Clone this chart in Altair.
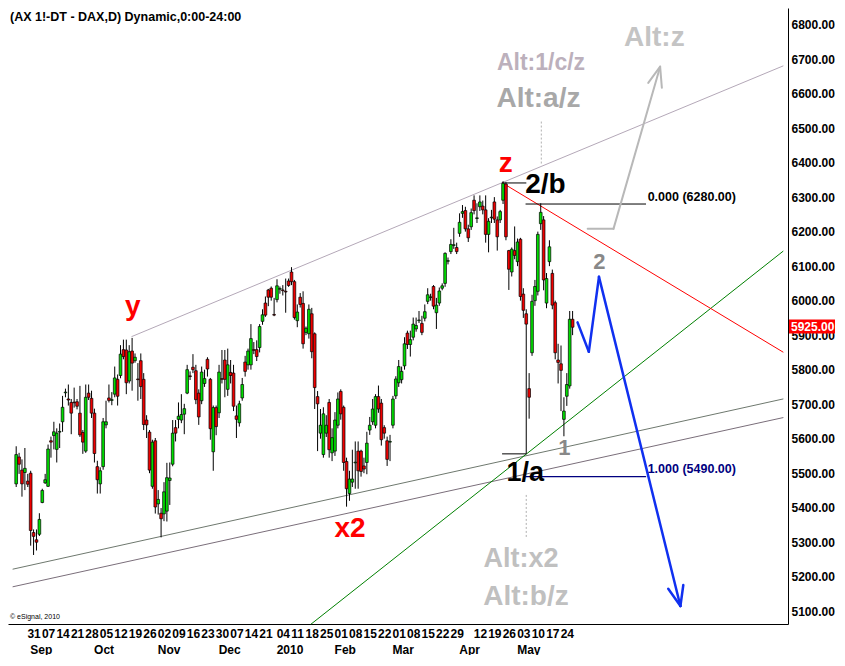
import altair as alt
import pandas as pd

# ---------------- candle data (trading-day index, OHLC) ----------------
open_ = [5469,5547,5509,5502,5477,5500,5328,5307,5323,5415,5472,5462,5594,5609,5569,5619,5649,5733,5715,5705,
         5706,5707,5674,5618,5564,5732,5717,5674,5519,5469,5519,5640,5718,5711,5729,5772,5783,5858,5857,5767,
         5854,5826,5773,5826,5772,5654,5619,5462,5594,5411,5384,5382,5390,
         5479,5526,5632,5656,5654,5671,5732,5782,5807,5797,5732,5710,5760,5830,5772,5562,5690,5675,5774,5828,
         5743,5792,5790,5666,5646,5718,5822,5814,5814,5858,5858,5864,5940,5993,6031,6036,5960,6003,6033,6031,
         6027,6057,6083,6055,5942,6010,5992,5908,5904,5962,
         5904,5722,5616,5554,5616,5705,5559,5564,5639,5737,5691,5534,5441,5474,5530,5564,5564,5521,5531,5625,
         5649,5639,5722,5703,5632,5594,5590,5639,5724,5762,5771,5811,5906,5873,5894,5918,5942,5934,5949,5998,
         6009,6041,5965,5993,6036,6050,6114,6142,6160,6154,
         6195,6253,6261,6208,6214,6291,6238,6272,6274,6263,6192,6240,6286,6234,6234,6291,6338,6145,6083,6145,
         6113,6178,6019,5962,5745,5849,6000,6027,6223,6234,5993,6113,6079,5994,5828,5817,5656,5723,5753,5946]
high_ = [5578,5559,5540,5573,5498,5507,5337,5337,5384,5455,5498,5583,5606,5649,5630,5644,5724,5745,5757,5715,
         5748,5715,5753,5625,5757,5757,5739,5687,5536,5517,5660,5710,5757,5735,5809,5786,5871,5887,5887,5871,
         5892,5847,5819,5847,5790,5668,5625,5597,5602,5451,5399,5474,5530,
         5531,5654,5654,5705,5729,5701,5814,5795,5845,5814,5743,5809,5800,5836,5776,5696,5696,5814,5857,5857,
         5861,5828,5814,5696,5710,5776,5840,5861,5932,5880,5885,5932,5975,6012,6034,6041,6008,6062,6041,6045,
         6064,6064,6097,6060,5989,6022,6027,5925,5989,5979,
         5908,5738,5686,5691,5668,5715,5630,5677,5734,5743,5696,5545,5507,5568,5592,5592,5568,5545,5620,5663,
         5715,5729,5754,5715,5639,5606,5611,5724,5781,5828,5809,5894,5913,5913,5951,5951,5970,5956,5989,6036,
         6020,6045,6008,6038,6050,6140,6125,6178,6211,6168,
         6253,6277,6272,6220,6267,6305,6282,6305,6290,6305,6239,6263,6300,6244,6263,6346,6343,6147,6154,6215,
         6180,6182,6036,5975,5790,6017,6060,6200,6282,6245,6080,6175,6090,6000,5875,5870,5720,5790,5970,5970]
low_ = [5460,5498,5432,5451,5460,5290,5263,5276,5318,5413,5469,5460,5545,5569,5531,5573,5620,5720,5696,5613,
        5690,5685,5605,5556,5559,5712,5660,5531,5441,5441,5510,5630,5705,5697,5720,5696,5775,5830,5729,5760,
        5739,5820,5710,5715,5625,5602,5500,5455,5383,5380,5314,5361,5360,
        5408,5520,5592,5630,5645,5613,5729,5770,5790,5700,5640,5700,5750,5780,5597,5507,5610,5660,5760,5720,
        5724,5760,5680,5602,5635,5710,5780,5800,5800,5845,5825,5850,5930,5953,5984,6000,5955,5995,6020,6015,
        5965,6040,6045,5945,5923,5980,5861,5900,5890,5833,
        5686,5564,5600,5545,5605,5545,5535,5550,5630,5655,5507,5403,5420,5460,5455,5455,5490,5500,5497,5611,
        5640,5630,5675,5580,5600,5521,5535,5630,5715,5750,5760,5800,5860,5838,5885,5910,5935,5900,5940,5990,
        6000,5975,5918,5985,6030,6040,6105,6135,6150,6135,
        6185,6240,6200,6170,6205,6250,6225,6260,6250,6168,6140,6225,6225,6145,6225,6280,6175,6031,6070,6120,
        6100,6000,5950,5556,5658,5840,5985,6015,6205,6030,5978,6100,5975,5830,5760,5680,5607,5695,5745,5900]
close_ = [5554,5526,5469,5514,5468,5334,5317,5300,5366,5450,5481,5570,5590,5620,5616,5621,5691,5735,5712,5674,
          5704,5694,5611,5590,5720,5720,5674,5557,5481,5507,5649,5649,5711,5713,5776,5723,5845,5838,5762,5852,
          5819,5836,5771,5751,5641,5640,5509,5590,5402,5424,5368,5446,5487,
          5486,5616,5616,5665,5670,5687,5800,5780,5800,5713,5663,5793,5774,5802,5629,5690,5635,5793,5772,5772,
          5814,5783,5694,5656,5701,5757,5795,5854,5890,5856,5838,5925,5959,5958,6010,6010,5958,6043,6035,6029,
          6025,6044,6055,5951,5967,5989,5875,5920,5975,5852,
          5748,5701,5639,5672,5639,5568,5603,5654,5715,5672,5531,5455,5483,5483,5532,5507,5505,5512,5587,5639,
          5686,5722,5686,5597,5616,5540,5592,5715,5773,5809,5795,5875,5873,5887,5932,5928,5944,5908,5968,6017,
          6011,5984,5987,6028,6043,6137,6116,6163,6162,6142,
          6227,6258,6208,6182,6255,6261,6240,6286,6263,6192,6230,6242,6236,6185,6258,6340,6185,6091,6149,6131,
          6170,6012,5972,5932,5720,5998,6041,6192,6256,6060,6064,6156,5987,5849,5821,5798,5680,5757,5946,5923]

# ---------------- axis labels ----------------
day_tick_idx = [3, 8, 13, 18, 23, 28, 33, 38, 43, 48, 53, 58, 63, 68, 73, 78, 83, 89, 94, 99, 104, 109,
                114, 119, 124, 129, 134, 139, 144, 149, 157, 162, 167, 172, 177, 182, 187]
day_tick_lbl = ['31', '07', '14', '21', '28', '05', '12', '19', '26', '02', '09', '16', '23', '30', '07',
                '14', '21', '04', '11', '18', '25', '01', '08', '15', '22', '01', '08', '15', '22', '29',
                '12', '19', '26', '03', '10', '17', '24']
month_idx = [4, 26, 48, 69, 89, 109, 129, 152, 172]
month_lbl = ['Sep', 'Oct', 'Nov', 'Dec', '2010', 'Feb', 'Mar', 'Apr', 'May']
price_ticks = list(range(5100, 6900, 100))
last_price = 5925

# ---------------- drawn lines (index, price) ----------------
seg_x1 = [39.9, -1.1, -1.1, 101.8, 167.8, 167.8, 175.9, 167.8, 175.9,
          197.2, 206.1, 222.2, 222.2,
          193.7, 197.6, 201.1, 229.2, 229.2]
seg_y1 = [5896, 5222, 5171, 5063, 6341, 6341, 6280, 5556, 5490,
          6208, 6208, 6678, 6678,
          5937, 5852, 6069, 5115, 5115]
seg_x2 = [264.6, 264.6, 264.6, 264.6, 264.6, 175.9, 217.2, 175.9, 217.2,
          206.1, 222.2, 218.1, 222.8,
          197.6, 201.1, 229.2, 225.0, 230.2]
seg_y2 = [6680, 5715, 5661, 6143, 5851, 6341, 6280, 5556, 5490,
          6208, 6678, 6631, 6617,
          5852, 6069, 5115, 5165, 5176]
seg_color = ['#b4a8b8', '#6e786e', '#7a6e7a', '#008000', '#ff0000', '#000000', '#000000', '#000000', '#000080',
             '#b8b8b8', '#b8b8b8', '#b8b8b8', '#b8b8b8',
             '#1030f0', '#1030f0', '#1030f0', '#1030f0', '#1030f0']
seg_width = [1, 1, 1, 1, 1, 1, 1, 1, 1.2,
             2, 2, 2, 2,
             2.5, 2.5, 2.5, 2.5, 2.5]

dot_x = [181.2, 176.0]
dot_y1 = [6519, 5437]
dot_y2 = [6395, 5310]

# ---------------- annotations ----------------
ann_text = ['y', 'z', 'x2', '2/b', '1/a', '2', '1', 'Alt:1/c/z', 'Alt:a/z', 'Alt:z', 'Alt:x2', 'Alt:b/z']
ann_i = [40.2, 168.9, 115.2, 182.6, 175.7, 201.2, 189.2, 181.1, 180.2, 220.2, 174.2, 175.9]
ann_p = [5981, 6395, 5338, 6335, 5502, 6112, 5573, 6688, 6585, 6760, 5250, 5140]
ann_color = ['#ff0000', '#ff0000', '#ff0000', '#000000', '#000000', '#888888', '#888888',
             '#bcb0bc', '#a8a8a8', '#c4c4c4', '#c0c0c0', '#c0c0c0']
ann_size = [28, 28, 28, 28, 27, 22, 22, 23, 28, 28, 27, 28]

fib_text = ['0.000 (6280.00)', '1.000 (5490.00)']
fib_i = [217.9, 217.9]
fib_p = [6301, 5511]
fib_color = ['#000000', '#000080']

# ---------------- build ----------------
W, H = 780, 616
FONT = 'Liberation Sans'
LABEL_SHIFT = 0.7  # small rightward nudge of date labels (index units)
xs = alt.Scale(domain=[-1.1, 264.6], nice=False, zero=False)
ys = alt.Scale(domain=[5063, 6848], nice=False, zero=False)

df = pd.DataFrame({'i': list(range(len(open_))), 'o': open_, 'h': high_, 'l': low_, 'c': close_})
df['dir'] = ['up' if c >= o else 'down' for o, c in zip(open_, close_)]

tick_vals = [v + LABEL_SHIFT for v in sorted(set(day_tick_idx) | set(month_idx))]
D = '[' + ','.join(str(v) for v in day_tick_idx) + ']'
DL = '[' + ','.join("'" + s + "'" for s in day_tick_lbl) + ']'
M = '[' + ','.join(str(v) for v in month_idx) + ']'
ML = '[' + ','.join("'" + s + "'" for s in month_lbl) + ']'
K = 'floor(datum.value)'
label_expr = (f"[indexof({D}, {K}) >= 0 ? {DL}[indexof({D}, {K})] : '', "
              f"indexof({M}, {K}) >= 0 ? {ML}[indexof({M}, {K})] : '']")

xaxis = alt.Axis(values=tick_vals, labelExpr=label_expr, title=None, grid=False, ticks=False,
                 domainColor='black', domainWidth=1, labelAlign='left', labelBaseline='top',
                 labelPadding=4, labelFont=FONT, labelFontWeight='bold', labelFontSize=12,
                 labelColor='black', labelOverlap=False, labelBound=False, labelFlush=False,
                 labelLineHeight=16, labelSeparation=0)
yaxis = alt.Axis(orient='right', values=price_ticks, format='.2f', title=None, grid=False, ticks=False,
                 domainColor='black', domainWidth=1, labelPadding=3, labelFont=FONT,
                 labelFontWeight='bold', labelFontSize=12, labelColor='black', labelOverlap=False,
                 labelFlush=False, labelBound=False, labelSeparation=0)


def X(field):
    return alt.X(field, scale=xs, axis=xaxis)


def Y(field):
    return alt.Y(field, scale=ys, axis=yaxis)


seg_df = pd.DataFrame({'x1': seg_x1, 'y1': seg_y1, 'x2': seg_x2, 'y2': seg_y2,
                       'col': seg_color, 'w': seg_width})
segs = alt.Chart(seg_df).mark_rule(strokeCap='round').encode(
    x=X('x1:Q'), y=Y('y1:Q'), x2='x2:Q', y2='y2:Q',
    color=alt.Color('col:N', scale=None), strokeWidth=alt.StrokeWidth('w:Q', scale=None))

dots = alt.Chart(pd.DataFrame({'x': dot_x, 'y1': dot_y1, 'y2': dot_y2})).mark_rule(
    color='#b0b0b0', strokeDash=[2, 2], strokeWidth=1).encode(
    x=X('x:Q'), y=Y('y1:Q'), y2='y2:Q')

wick = alt.Chart(df).mark_rule(color='black', strokeWidth=1).encode(
    x=X('i:Q'), y=Y('l:Q'), y2='h:Q')
body = alt.Chart(df).mark_bar(size=2.7, stroke='black', strokeWidth=0.7).encode(
    x=X('i:Q'), y=Y('o:Q'), y2='c:Q',
    color=alt.Color('dir:N', scale=alt.Scale(domain=['up', 'down'], range=['#00dd00', '#ee0000']),
                    legend=None))

ann = alt.Chart(pd.DataFrame({'i': ann_i, 'p': ann_p, 't': ann_text, 'col': ann_color, 'fs': ann_size})
                ).mark_text(font=FONT, fontWeight='bold', align='center', baseline='middle').encode(
    x=X('i:Q'), y=Y('p:Q'), text='t:N',
    color=alt.Color('col:N', scale=None), size=alt.Size('fs:Q', scale=None))

fib = alt.Chart(pd.DataFrame({'i': fib_i, 'p': fib_p, 't': fib_text, 'col': fib_color})
                ).mark_text(font=FONT, fontSize=12.5, fontWeight='bold', align='left',
                            baseline='middle').encode(
    x=X('i:Q'), y=Y('p:Q'), text='t:N',
    color=alt.Color('col:N', scale=None))

lp = pd.DataFrame({'p': [last_price], 'lo': [last_price - 20], 'hi': [last_price + 20],
                   't': [f'{last_price:.2f}']})
lp_box = alt.Chart(lp).mark_rect(color='#ff0000').encode(
    x=alt.value(W + 1), x2=alt.value(W + 47), y=Y('lo:Q'), y2='hi:Q')
lp_txt = alt.Chart(lp).mark_text(font=FONT, fontWeight='bold', fontSize=12, color='white',
                                 align='left', baseline='middle').encode(
    x=alt.value(W + 3), y=Y('p:Q'), text='t:N')

title = alt.Chart(pd.DataFrame({'t': ['(AX 1!-DT - DAX,D) Dynamic,0:00-24:00']})).mark_text(
    font=FONT, fontWeight='bold', fontSize=12.5, align='left', baseline='middle', color='black').encode(
    x=alt.value(2), y=alt.value(9), text='t:N')
copy = alt.Chart(pd.DataFrame({'t': ['\u00a9 eSignal, 2010']})).mark_text(
    font=FONT, fontSize=7, align='left', baseline='middle', color='black').encode(
    x=alt.value(2), y=alt.value(H - 7), text='t:N')

chart = alt.layer(segs, dots, wick, body, ann, fib, lp_box, lp_txt, title, copy).properties(
    width=W, height=H, padding=0, background='white'
).configure_view(stroke=None).configure_axis(labelOverlap=False)

chart.save("out.html", embed_options={"renderer": "svg", "actions": False})
